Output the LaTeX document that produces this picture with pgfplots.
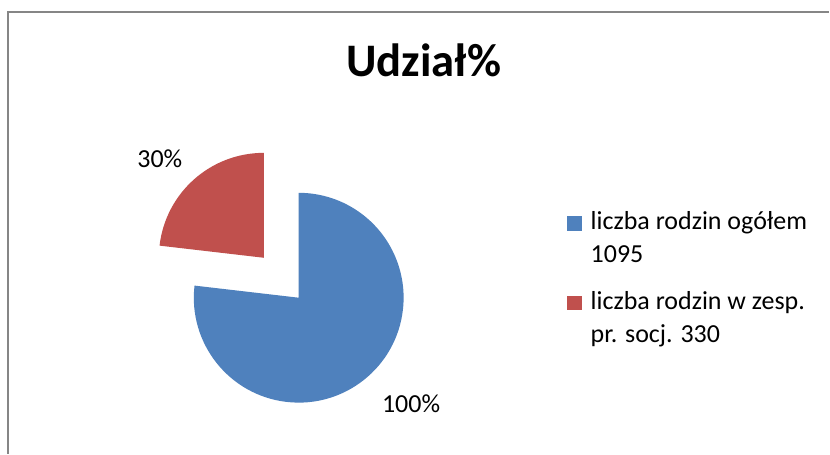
\documentclass[border=0pt]{standalone}
\usepackage{pgfplots}
\pgfplotsset{compat=1.18}
\usepackage{fontspec}
\setmainfont{Carlito}
\definecolor{PieBlue}{RGB}{79,129,189}
\definecolor{PieRed}{RGB}{192,80,77}
\definecolor{FrameGray}{RGB}{134,134,134}

% data
\def\valA{1095}
\def\valB{330}

\begin{document}
\begin{tikzpicture}
\pgfmathsetmacro{\angB}{360*(\valB/(\valA+\valB))}
\pgfmathsetmacro{\splitang}{90+\angB}
\begin{axis}[
    x=0.75pt, y=0.75pt,
    xmin=0, xmax=830, ymin=0, ymax=454,
    hide axis,
    clip=false,
    anchor=south west, at={(0,0)},
]
% canvas (px coords, y up)
\fill[white] (axis cs:0,0) rectangle (axis cs:830,454);
\draw[FrameGray, line width=1.2pt] (axis cs:8,0) -- (axis cs:8,442) -- (axis cs:830,442);

% title
\node[anchor=base, font=\fontsize{35}{40}\selectfont\bfseries] at (axis cs:424,377) {Udział\%};

% pie: blue slice
\fill[PieBlue] (axis cs:299,156) -- ++(\splitang:78.75pt)
    arc[start angle=\splitang, end angle=450, radius=78.75pt] -- cycle;
% pie: red slice (exploded)
\fill[PieRed] (axis cs:264,196) -- ++(90:78.75pt)
    arc[start angle=90, end angle=\splitang, radius=78.75pt] -- cycle;

% slice labels
\node[font=\fontsize{19.5}{23}\selectfont] at (axis cs:160,295) {30\%};
\node[font=\fontsize{19.5}{23}\selectfont] at (axis cs:411.5,50) {100\%};

% legend
\fill[PieBlue] (axis cs:568,223) rectangle (axis cs:583,238);
\fill[PieRed] (axis cs:568,144) rectangle (axis cs:583,158);
\begin{scope}[every node/.style={anchor=base west, inner sep=0pt, font=\fontsize{19.5}{23}\selectfont}]
\node at (axis cs:591,224.7) {liczba rodzin ogółem};
\node at (axis cs:591,191.3) {1095};
\node at (axis cs:591,144) {liczba rodzin w zesp.};
\node at (axis cs:591,111) {pr. socj. 330};
\end{scope}
\end{axis}
\end{tikzpicture}
\end{document}
